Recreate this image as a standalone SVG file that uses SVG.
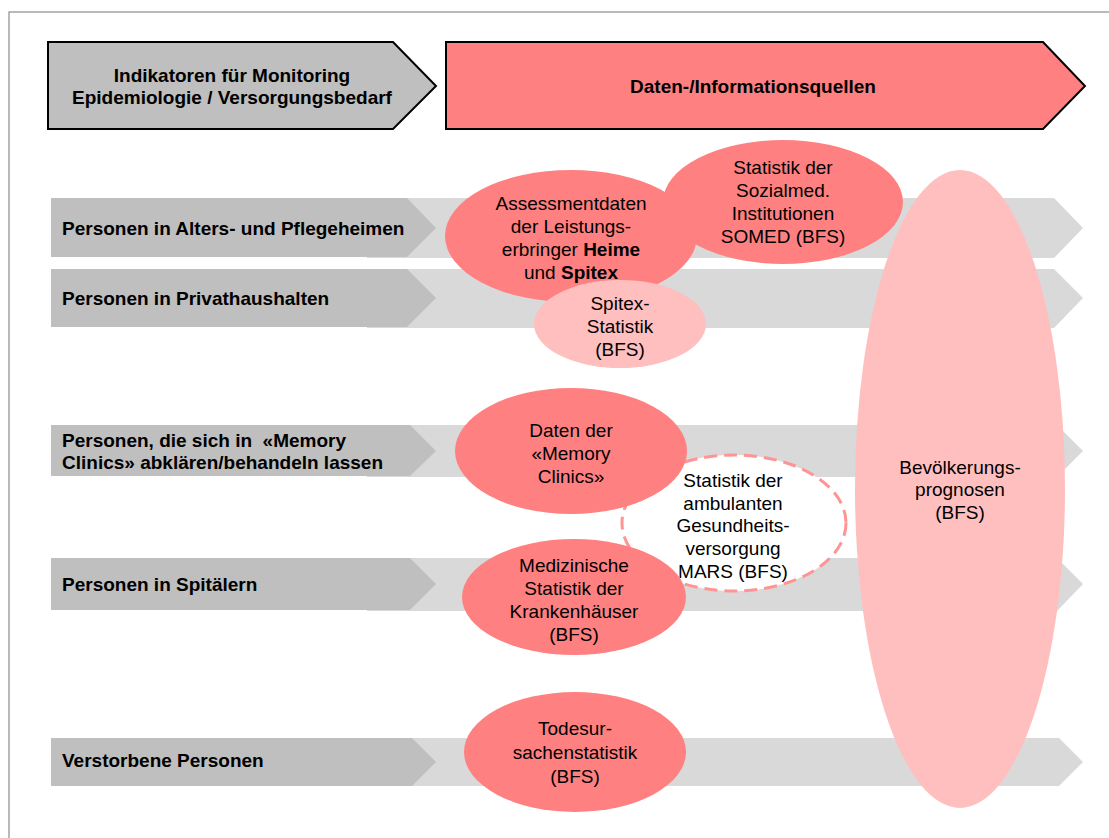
<svg xmlns="http://www.w3.org/2000/svg" width="1109" height="838" viewBox="0 0 1109 838">
<style>
text{font-family:"Liberation Sans",Arial,sans-serif;fill:#000}
.b{font-weight:bold;font-size:19px}
.s{font-size:19px;text-anchor:middle}
.dk{fill:#BFBFBF}
.lt{fill:#D9D9D9}
.sal{fill:#FF8080}
.pk{fill:#FFBFBF}
</style>
<rect x="9" y="12" width="1200" height="900" fill="#fff" stroke="#8C8C8C" stroke-width="1.2"/>
<g id="header-indicators">
<polygon points="48,42 393,42 436,86 393,129 48,129" fill="#BFBFBF" stroke="#000" stroke-width="2"/>
<text class="b" x="232" y="82" text-anchor="middle">Indikatoren für Monitoring</text>
<text class="b" x="232" y="104" text-anchor="middle">Epidemiologie / Versorgungsbedarf</text>
</g>
<g id="header-sources">
<polygon points="446,42 1043,42 1085,86 1043,129 446,129" fill="#FF8080" stroke="#000" stroke-width="2"/>
<text class="b" x="753" y="93" text-anchor="middle">Daten-/Informationsquellen</text>
</g>
<g id="row-heime">
<polygon class="lt" points="367,198 1054,198 1083,228 1054,258 367,258"/>
<polygon class="dk" points="51,198 407,198 436,228 407,257 51,257"/>
<text class="b" x="62" y="235">Personen in Alters- und Pflegeheimen</text>
</g>
<g id="row-privat">
<polygon class="lt" points="367,269 1054,269 1083,298 1054,328 367,328"/>
<polygon class="dk" points="51,269 407,269 436,298 407,327 51,327"/>
<text class="b" x="62" y="305">Personen in Privathaushalten</text>
</g>
<g id="row-memory">
<polygon class="lt" points="367,425 1057,425 1083,451 1057,477 367,477"/>
<polygon class="dk" points="51,425 410,425 436,451 410,476 51,476"/>
<text class="b" x="62" y="447" xml:space="preserve">Personen, die sich in  «Memory</text>
<text class="b" x="62" y="469">Clinics» abklären/behandeln lassen</text>
</g>
<g id="row-spital">
<polygon class="lt" points="367,558 1057,558 1083,584 1057,611 367,611"/>
<polygon class="dk" points="51,558 410,558 436,584 410,610 51,610"/>
<text class="b" x="62" y="591">Personen in Spitälern</text>
</g>
<g id="row-verstorben">
<polygon class="lt" points="367,738 1059,738 1083,762 1059,786 367,786"/>
<polygon class="dk" points="51,738 412,738 436,762 412,786 51,786"/>
<text class="b" x="62" y="767">Verstorbene Personen</text>
</g>
<g id="connectors"></g>
<g id="bevoelkerung">
<ellipse class="pk" cx="960" cy="489" rx="105" ry="319"/>
<text class="s" x="960" y="474">Bevölkerungs-</text>
<text class="s" x="960" y="496">prognosen</text>
<text class="s" x="960" y="519">(BFS)</text>
</g>
<g id="assessment">
<ellipse class="sal" cx="571" cy="236" rx="126" ry="66"/>
</g>
<g id="somed">
<ellipse class="sal" cx="783" cy="202" rx="120" ry="62"/>
<text class="s" x="783" y="174">Statistik der</text>
<text class="s" x="783" y="197">Sozialmed.</text>
<text class="s" x="783" y="220">Institutionen</text>
<text class="s" x="783" y="243">SOMED (BFS)</text>
</g>
<g id="assessment-text">
<text class="s" x="571" y="210">Assessmentdaten</text>
<text class="s" x="571" y="233">der Leistungs-</text>
<text class="s" x="571" y="256">erbringer <tspan font-weight="bold">Heime</tspan></text>
<text class="s" x="571" y="279">und <tspan font-weight="bold">Spitex</tspan></text>
</g>
<g id="spitex">
<ellipse class="pk" cx="620" cy="324" rx="86" ry="44"/>
<text class="s" x="620" y="310">Spitex-</text>
<text class="s" x="620" y="333">Statistik</text>
<text class="s" x="620" y="356">(BFS)</text>
</g>
<g id="mars">
<ellipse cx="734" cy="523" rx="112" ry="68" fill="#fff" stroke="#FF9494" stroke-width="3" stroke-dasharray="13,7"/>
<text class="s" x="733" y="487">Statistik der</text>
<text class="s" x="733" y="510">ambulanten</text>
<text class="s" x="733" y="532">Gesundheits-</text>
<text class="s" x="733" y="555">versorgung</text>
<text class="s" x="733" y="578">MARS (BFS)</text>
</g>
<g id="memory-clinics">
<ellipse class="sal" cx="571" cy="451" rx="116" ry="63"/>
<text class="s" x="571" y="437">Daten der</text>
<text class="s" x="571" y="460">«Memory</text>
<text class="s" x="571" y="483">Clinics»</text>
</g>
<g id="medizinische">
<ellipse class="sal" cx="574" cy="597" rx="112" ry="58"/>
<text class="s" x="574" y="572">Medizinische</text>
<text class="s" x="574" y="595">Statistik der</text>
<text class="s" x="574" y="618">Krankenhäuser</text>
<text class="s" x="574" y="641">(BFS)</text>
</g>
<g id="todesursachen">
<ellipse class="sal" cx="575" cy="752" rx="111" ry="60"/>
<text class="s" x="575" y="735">Todesur-</text>
<text class="s" x="575" y="759">sachenstatistik</text>
<text class="s" x="575" y="783">(BFS)</text>
</g>
</svg>
